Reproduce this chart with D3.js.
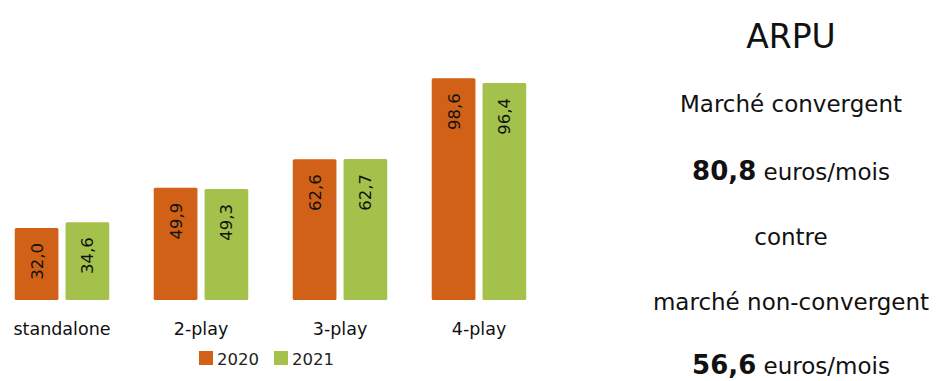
<!DOCTYPE html>
<html>
<head>
<meta charset="utf-8">
<script src="https://cdn.jsdelivr.net/npm/d3@7"></script>
<style>
  body { margin: 0; background: #fff; }
  text { font-family: "DejaVu Sans", Verdana, sans-serif; fill: #111; }
</style>
</head>
<body>
<script>
var width = 936, height = 381;

// data
var categories = ["standalone", "2-play", "3-play", "4-play"];
var years = ["2020", "2021"];
var values2020 = [32.0, 49.9, 62.6, 98.6];
var values2021 = [34.6, 49.3, 62.7, 96.4];
var colors = ["#d06116", "#a3c14b"];

var sideLines = [
    { bold: "", text: "ARPU", size: 33, y: 48 },
    { bold: "", text: "Marché convergent", size: 23, y: 112 },
    { bold: "80,8", text: " euros/mois", size: 23, y: 180 },
    { bold: "", text: "contre", size: 23, y: 245 },
    { bold: "", text: "marché non-convergent", size: 23, y: 310 },
    { bold: "56,6", text: " euros/mois", size: 23, y: 374 }
];

var svg = d3.select("body")
    .append("svg")
    .attr("width", width)
    .attr("height", height);

var x = d3.scaleBand()
    .domain(categories)
    .range([-7.5, 548.5])
    .paddingInner(0.32)
    .paddingOuter(0.16);

var xSub = d3.scaleBand()
    .domain(years)
    .range([0, x.bandwidth()])
    .paddingInner(0.14);

var y = d3.scaleLinear()
    .domain([0, 100])
    .range([300, 75]);

var rows = categories.map(function(c, i) {
    return { cat: c, vals: [values2020[i], values2021[i]] };
});

var groups = svg.append("g")
    .selectAll("g")
    .data(rows)
    .enter().append("g")
    .attr("transform", function(d) { return "translate(" + x(d.cat) + ",0)"; });

groups.selectAll("rect")
    .data(function(d) { return d.vals.map(function(v, j) { return { year: years[j], v: v, j: j }; }); })
    .enter().append("rect")
    .attr("x", function(d) { return xSub(d.year); })
    .attr("y", function(d) { return y(d.v); })
    .attr("width", xSub.bandwidth())
    .attr("height", function(d) { return y(0) - y(d.v); })
    .attr("rx", 1.5)
    .attr("fill", function(d) { return colors[d.j]; });

// value labels, rotated, near the top of each bar
groups.selectAll("text.val")
    .data(function(d) { return d.vals.map(function(v, j) { return { year: years[j], v: v }; }); })
    .enter().append("text")
    .attr("class", "val")
    .attr("transform", function(d) {
        var cx = xSub(d.year) + xSub.bandwidth() / 2;
        return "translate(" + (cx + 6) + "," + (y(d.v) + 15) + ") rotate(-90)";
    })
    .attr("text-anchor", "end")
    .style("font-size", "16.5px")
    .text(function(d) { return d3.format(".1f")(d.v).replace(".", ","); });

// category axis labels
var xAxis = d3.axisBottom(x).tickSize(0).tickPadding(0);
var axisG = svg.append("g")
    .attr("transform", "translate(0,335)")
    .call(xAxis);
axisG.select(".domain").remove();
axisG.selectAll("text")
    .attr("dy", "0")
    .style("font-size", "17.5px")
    .style("font-family", "'DejaVu Sans', Verdana, sans-serif")
    .attr("fill", "#111");

// legend
var legend = svg.append("g").attr("transform", "translate(199,351)");
var leg = legend.selectAll("g")
    .data(years)
    .enter().append("g")
    .attr("transform", function(d, i) { return "translate(" + (i * 75) + ",0)"; });
leg.append("rect").attr("width", 14).attr("height", 14).attr("fill", function(d, i) { return colors[i]; });
leg.append("text").attr("x", 18).attr("y", 14).style("font-size", "16.5px").style("fill", "#222").text(function(d) { return d; });

// side text
var side = svg.append("g");
sideLines.forEach(function(l) {
    var t = side.append("text")
        .attr("x", 791)
        .attr("y", l.y)
        .attr("text-anchor", "middle")
        .style("font-size", l.size + "px");
    if (l.bold) t.append("tspan").style("font-weight", "bold").style("font-size", (l.size + 3) + "px").text(l.bold);
    t.append("tspan").text(l.text);
});
</script>
</body>
</html>
